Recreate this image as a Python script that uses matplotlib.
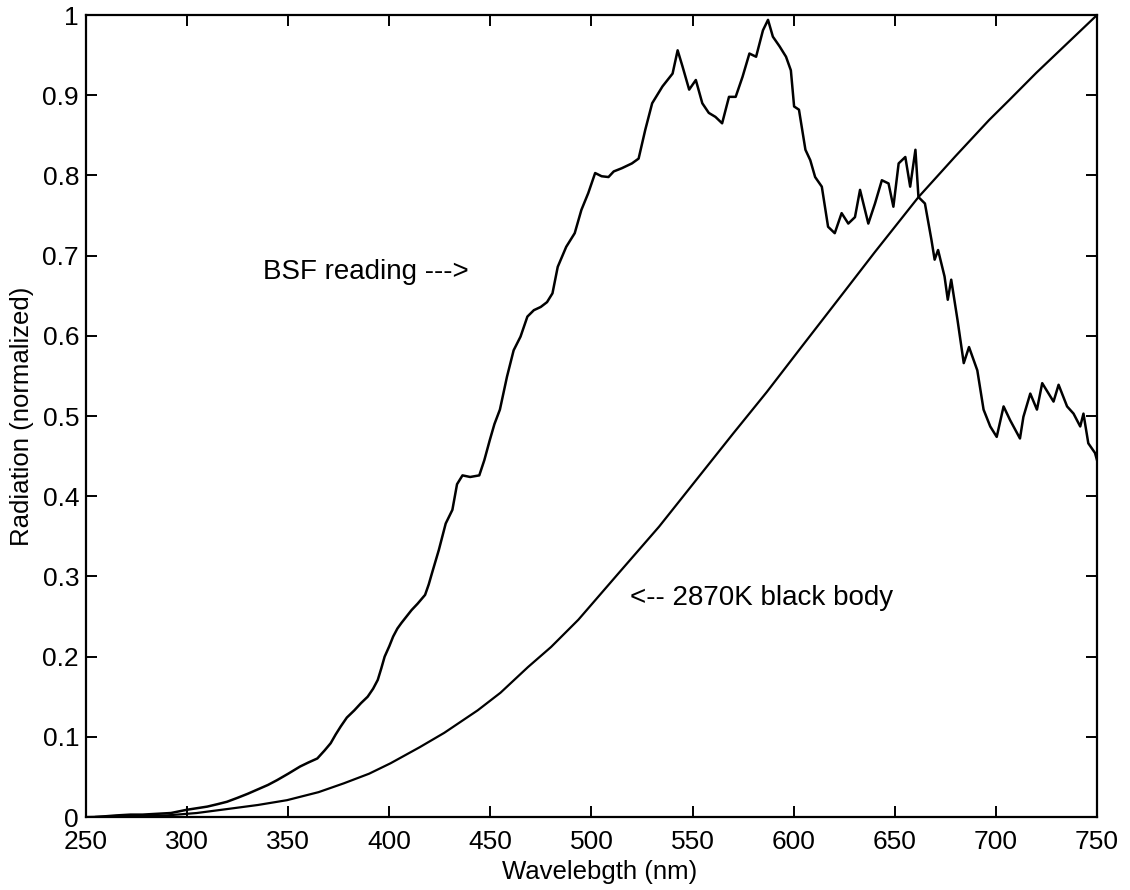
import matplotlib
matplotlib.use("Agg")
import matplotlib.pyplot as plt
from matplotlib.ticker import FuncFormatter

plt.rcParams['font.family'] = ['Liberation Sans', 'DejaVu Sans']

# Measured spectrum (BSF reading), wavelength in nm and normalized radiation
bsf_nm = [255, 265, 272, 278, 285, 292, 299.8, 305, 310, 315, 319.7, 325, 330, 334.6,
          340, 344.5, 350, 355.9, 360, 364.4, 368, 371, 373.5, 376, 379, 382.7, 386,
          389.3, 392, 394.3, 396, 397.7, 400, 401.9, 404, 406, 408.5, 411, 414, 417.7,
          419.5, 421.1, 424.5, 427.9, 431.2, 433.5, 436.2, 440, 444.5, 447, 449.7, 452,
          454.7, 458.2, 461.5, 464.9, 468.3, 471.5, 474.9, 478, 480.7, 483.3, 487.5,
          491.7, 495, 498.4, 501.8, 505, 508.4, 511, 515, 520, 523.3, 526.6, 530, 535.1,
          540.1, 542.6, 545, 548.3, 551.6, 554.8, 558, 561.3, 564.6, 568, 571.3, 574.7,
          578.1, 581.4, 584.8, 587.3, 589.7, 593, 596.2, 598.6, 600.2, 602.6, 605.8,
          608.2, 610.6, 613.9, 617, 620.3, 623.7, 627, 630.3, 632.8, 636.9, 640.2, 643.6,
          646.9, 649.3, 651.9, 655.2, 657.6, 660.2, 661.7, 664.9, 668.1, 669.7, 671.4,
          674.6, 676.2, 677.9, 681, 684.1, 686.7, 690.8, 693.9, 697.2, 700.4, 703.8, 707,
          711.9, 713.6, 717, 720.3, 722.9, 728.5, 731, 735.2, 738.4, 741.7, 743.3, 745.7,
          749, 750]
bsf_val = [0.000, 0.002, 0.003, 0.003, 0.004, 0.005, 0.009, 0.011, 0.013, 0.016, 0.019,
           0.024, 0.029, 0.034, 0.040, 0.046, 0.054, 0.063, 0.068, 0.073, 0.083, 0.092,
           0.103, 0.113, 0.124, 0.133, 0.142, 0.150, 0.160, 0.171, 0.185, 0.200, 0.213,
           0.225, 0.235, 0.242, 0.250, 0.258, 0.266, 0.277, 0.290, 0.304, 0.333, 0.366,
           0.383, 0.415, 0.426, 0.424, 0.426, 0.445, 0.470, 0.490, 0.508, 0.549, 0.582,
           0.599, 0.624, 0.632, 0.636, 0.642, 0.653, 0.686, 0.711, 0.728, 0.757, 0.778,
           0.803, 0.799, 0.798, 0.805, 0.809, 0.815, 0.821, 0.857, 0.890, 0.911, 0.927,
           0.956, 0.936, 0.907, 0.919, 0.890, 0.878, 0.873, 0.865, 0.898, 0.898, 0.923,
           0.952, 0.948, 0.981, 0.994, 0.973, 0.961, 0.948, 0.931, 0.886, 0.882, 0.832,
           0.819, 0.798, 0.786, 0.736, 0.728, 0.753, 0.740, 0.748, 0.782, 0.740, 0.765,
           0.794, 0.790, 0.761, 0.815, 0.823, 0.786, 0.832, 0.773, 0.765, 0.720, 0.695,
           0.707, 0.674, 0.645, 0.670, 0.620, 0.566, 0.586, 0.557, 0.508, 0.487, 0.474,
           0.512, 0.495, 0.472, 0.499, 0.528, 0.508, 0.541, 0.518, 0.539, 0.512, 0.503,
           0.487, 0.503, 0.466, 0.454, 0.445]

# 2870 K black body, normalized to 1 at 750 nm
bb_nm = [250, 270, 290, 304.8, 320, 335, 349.4, 365, 377.5, 390, 400.6, 415, 427.2,
         443.7, 455, 468.6, 480, 493.5, 513.4, 533.4, 551.7, 570, 586.7, 603.5,
         625, 640, 661.7, 680, 696.6, 706.6, 720, 735, 750]
bb_val = [0.000, 0.001, 0.002, 0.005, 0.010, 0.015, 0.021, 0.031, 0.042, 0.054, 0.067,
          0.087, 0.105, 0.133, 0.155, 0.187, 0.212, 0.246, 0.304, 0.362, 0.420, 0.478,
          0.530, 0.585, 0.655, 0.704, 0.773, 0.824, 0.869, 0.894, 0.928, 0.964, 1.000]

x_ticks = [250, 300, 350, 400, 450, 500, 550, 600, 650, 700, 750]
y_ticks = [0, 0.1, 0.2, 0.3, 0.4, 0.5, 0.6, 0.7, 0.8, 0.9, 1.0]

fig = plt.figure(figsize=(11.3, 8.9), dpi=100)
ax = fig.add_axes([0.0761, 0.0820, 0.8947, 0.9011])

ax.plot(bsf_nm, bsf_val, color='black', lw=1.8)
ax.plot(bb_nm, bb_val, color='black', lw=1.6)

ax.set_xlim(250, 750)
ax.set_ylim(0, 1)
ax.set_xticks(x_ticks)
ax.set_yticks(y_ticks)
ax.yaxis.set_major_formatter(FuncFormatter(lambda v, p: f"{v:g}"))
ax.tick_params(direction='in', length=8, width=1.4, top=True, right=True,
               labelsize=19, colors='black')
ax.tick_params(axis='x', pad=9)
ax.tick_params(axis='y', pad=5)
for s in ax.spines.values():
    s.set_linewidth(1.6)

ax.set_xlabel("Wavelebgth (nm)", fontsize=18.5)
ax.set_ylabel("Radiation (normalized)", fontsize=18.5)
ax.xaxis.set_label_coords(0.508, -0.0536)
ax.yaxis.set_label_coords(-0.0514, 0.5)

ax.text(337.3, 0.68, "BSF reading --->", fontsize=20, va='center', ha='left')
ax.text(519.2, 0.273, "<-- 2870K black body", fontsize=20, va='center', ha='left')

fig.savefig("out.png", dpi=100)
